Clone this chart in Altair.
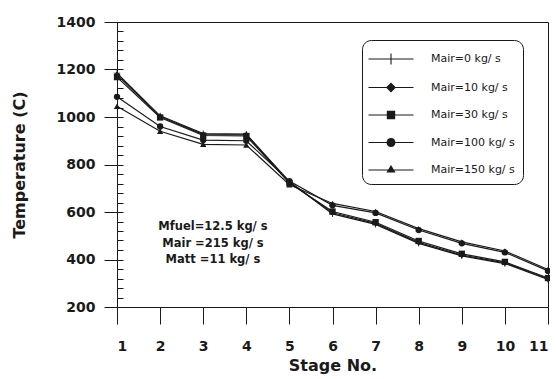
import altair as alt
import pandas as pd

stages = list(range(1, 12))
series_names = ["Mair=0  kg/ s", "Mair=10  kg/ s", "Mair=30  kg/ s", "Mair=100 kg/ s", "Mair=150 kg/ s"]
t_mair0 = [1185, 1005, 930, 928, 728, 592, 548, 468, 415, 383, 316]
t_mair10 = [1178, 1002, 926, 925, 725, 597, 552, 472, 419, 386, 319]
t_mair30 = [1168, 998, 922, 920, 722, 602, 557, 478, 424, 390, 322]
t_mair100 = [1085, 960, 903, 900, 730, 628, 596, 524, 468, 430, 352]
t_mair150 = [1045, 940, 885, 882, 715, 636, 602, 530, 474, 436, 358]
y_ticks = [200, 400, 600, 800, 1000, 1200, 1400]
y_minor = list(range(200, 1401, 40))
note_lines = ["Mfuel=12.5 kg/ s", "Mair =215 kg/ s", "Matt =11  kg/ s"]

series_values = [t_mair0, t_mair10, t_mair30, t_mair100, t_mair150]
rows = []
for name, vals in zip(series_names, series_values):
    for s, v in zip(stages, vals):
        rows.append({"stage": s, "temp": v, "series": name, "legend_series": name})
df = pd.DataFrame(rows)

W, H = 431, 285
FONT = "DejaVu Sans"
INK = "#1a1a1a"

PLUS = "M-1,-0.13H1V0.13H-1Z M-0.13,-1H0.13V1H-0.13Z"
plot_shapes = [PLUS, "diamond", "square", "circle", "triangle-up"]
BAR = "M-2.25,-0.05H2.25V0.05H-2.25Z "
legend_shapes = [
    BAR + "M-0.055,-0.55H0.055V0.55H-0.055Z",
    BAR + "M0,-0.5L0.5,0L0,0.5L-0.5,0Z",
    BAR + "M-0.42,-0.42H0.42V0.42H-0.42Z",
    BAR + "M0.45,0A0.45,0.45 0 1,1 -0.45,0A0.45,0.45 0 1,1 0.45,0Z",
    BAR + "M0,-0.5L0.46,0.26L-0.46,0.26Z",
]

x_scale = alt.Scale(domain=[1, 11], nice=False)
x_axis = alt.Axis(values=stages, title="Stage No.", tickSize=17, labelPadding=15,
                  grid=False, format="d", labelFont=FONT, labelFontSize=14,
                  labelFontWeight="bold", labelColor=INK, titleFont=FONT,
                  titleFontSize=16, titleFontWeight="bold", titleColor=INK,
                  titlePadding=4, domainColor=INK, tickColor=INK)
x_enc = alt.X("stage:Q", scale=x_scale, axis=x_axis)
y_scale = alt.Scale(domain=[200, 1400], nice=False)

lines = alt.Chart(df).mark_line(color=INK, strokeWidth=1.2).encode(
    x=x_enc,
    y=alt.Y("temp:Q", scale=y_scale,
            axis=alt.Axis(values=y_ticks, format="d", title="Temperature (C)", tickSize=13, labelPadding=9,
                          grid=False, labelFont=FONT, labelFontSize=14, labelFontWeight="bold",
                          labelColor=INK, titleFont=FONT, titleFontSize=16, titleFontWeight="bold",
                          titleColor=INK, titlePadding=29, domainColor=INK, tickColor=INK)),
    detail="series:N",
)

points = alt.Chart(df).mark_point(filled=True, color=INK, size=40, opacity=1).encode(
    x=x_enc,
    y=alt.Y("temp:Q", scale=y_scale,
            axis=alt.Axis(orient="right", offset=-W, values=y_minor, labels=False, title=None,
                          domain=False, grid=False, tickSize=6, tickColor=INK)),
    shape=alt.Shape("series:N", scale=alt.Scale(domain=series_names, range=plot_shapes), legend=None),
)

legend_layer = alt.Chart(df).transform_filter("datum.stage < 0").mark_point(
    filled=True, color=INK, size=400, opacity=1
).encode(
    x=x_enc,
    y=alt.Y("temp:Q", scale=y_scale, axis=None),
    shape=alt.Shape("legend_series:N", scale=alt.Scale(domain=series_names, range=legend_shapes),
                    legend=alt.Legend(title=None, orient="none", legendX=245, legendY=18,
                                      strokeColor=INK, cornerRadius=9, padding=8, fillColor="white",
                                      labelFont=FONT, labelFontSize=11, labelColor=INK,
                                      symbolSize=400, symbolFillColor=INK, symbolOpacity=1,
                                      rowPadding=8.5, symbolOffset=10, labelOffset=29)),
)

note = alt.Chart(pd.DataFrame({"k": [0]})).mark_text(
    text=note_lines, lineHeight=16.5, align="center", baseline="top",
    font=FONT, fontSize=11.5, fontWeight="bold", color=INK
).encode(x=alt.value(96), y=alt.value(199))

chart = alt.layer(lines, points, legend_layer, note).resolve_scale(
    shape="independent"
).resolve_axis(y="independent").properties(
    width=W, height=H,
    autosize=alt.AutoSizeParams(type="none"),
    padding={"left": 109, "top": 14, "right": 2, "bottom": 72},
    background="white",
).configure_view(stroke=INK, strokeWidth=1)

chart.save("out.html", embed_options={"renderer": "svg", "actions": False})
